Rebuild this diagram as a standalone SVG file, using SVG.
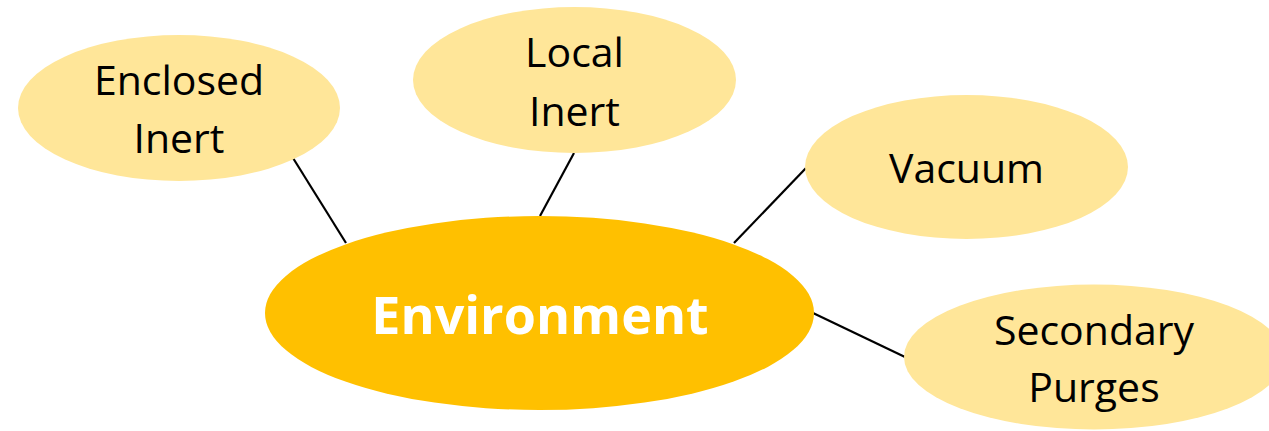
<svg xmlns="http://www.w3.org/2000/svg" width="1269" height="431" viewBox="0 0 1269 431">
<style>
.sub{fill:#FFE699;}
.main{fill:#FFC000;}
.lbl{font-family:"Open Sans","Liberation Sans",sans-serif;font-size:41px;fill:#000;text-anchor:middle;}
.mlbl{font-family:"Open Sans","Liberation Sans",sans-serif;font-size:52px;font-weight:bold;fill:#fff;text-anchor:middle;}
.conn line{stroke:#000;stroke-width:2.2;}
</style>
<rect width="1269" height="431" fill="#fff"/>
<g id="connectors" class="conn">
<line x1="293" y1="158" x2="346" y2="243"/>
<line x1="574" y1="153" x2="540" y2="216"/>
<line x1="806" y1="168" x2="734" y2="243"/>
<line x1="813" y1="313" x2="905" y2="357"/>
</g>
<g id="enclosed-inert">
<ellipse class="sub" cx="179" cy="108" rx="161" ry="73"/>
<text class="lbl" x="179" y="95">Enclosed</text>
<text class="lbl" x="179" y="153">Inert</text>
</g>
<g id="local-inert">
<ellipse class="sub" cx="574.5" cy="80" rx="161.5" ry="73"/>
<text class="lbl" x="574.5" y="67">Local</text>
<text class="lbl" x="574.5" y="126">Inert</text>
</g>
<g id="vacuum">
<ellipse class="sub" cx="966.5" cy="167" rx="161.5" ry="72"/>
<text class="lbl" x="966.5" y="183">Vacuum</text>
</g>
<g id="secondary-purges">
<ellipse class="sub" cx="1094" cy="357" rx="190" ry="72.5"/>
<text class="lbl" x="1094" y="345">Secondary</text>
<text class="lbl" x="1094" y="402">Purges</text>
</g>
<g id="environment">
<ellipse class="main" cx="539.5" cy="313" rx="274.5" ry="97"/>
<text class="mlbl" x="540" y="334">Environment</text>
</g>
</svg>
